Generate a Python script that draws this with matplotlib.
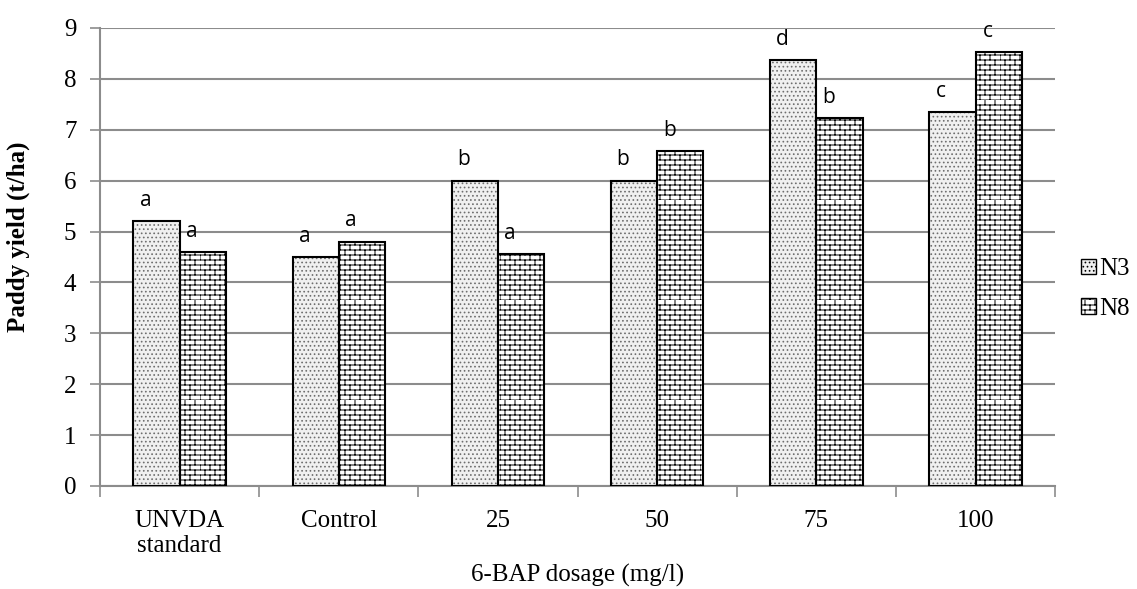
import warnings
import numpy as np
import matplotlib
matplotlib.use("Agg")
import matplotlib.pyplot as plt
from matplotlib import hatch as mhatch
from matplotlib.path import Path

warnings.filterwarnings("ignore")

categories = ["UNVDA\nstandard", "Control", "25", "50", "75", "100"]
n3_yield = [5.2, 4.5, 6.0, 6.0, 8.37, 7.35]
n8_yield = [4.6, 4.8, 4.55, 6.58, 7.23, 8.53]
n3_letters = ["a", "a", "b", "b", "d", "c"]
n8_letters = ["a", "a", "a", "b", "b", "c"]


class BrickHatch(mhatch.HatchPatternBase):
    """brick pattern for the 'k' hatch character"""
    def __init__(self, hatch, density):
        n = hatch.count('k')
        # about 20 rows per tile for 'kkk', kept even so the bricks tile
        self.rows = 2 * int(round(n * density * 1.1 / 2)) if n else 0
        self.cols = max(1, self.rows // 2)
        self.num_vertices = (self.rows * 2 + self.rows * self.cols * 2) if self.rows else 0

    def set_vertices_and_codes(self, vertices, codes):
        h = 1.0 / self.rows
        k = 0
        for i in range(self.rows):
            vertices[k] = (0, i * h)
            vertices[k + 1] = (1, i * h)
            codes[k] = Path.MOVETO
            codes[k + 1] = Path.LINETO
            k += 2
        for i in range(self.rows):
            shift = 0.5 * (i % 2)
            for j in range(self.cols):
                x = (j + shift) / self.cols
                vertices[k] = (x, i * h)
                vertices[k + 1] = (x, (i + 1) * h)
                codes[k] = Path.MOVETO
                codes[k + 1] = Path.LINETO
                k += 2


mhatch._hatch_types.append(BrickHatch)

plt.rcParams['hatch.linewidth'] = 0.7
serif = ['Liberation Serif', 'DejaVu Serif']

fig = plt.figure(figsize=(11.37, 5.89), dpi=100)
ax = fig.add_axes([0.088, 0.175, 0.84, 0.7775])

x = np.arange(len(categories))
w = 0.29
# N3: light stipple, outline drawn separately so the dots can be grey
ax.bar(x - w / 2, n3_yield, w, facecolor='#f0f0f0', edgecolor='#6e6e6e',
       linewidth=0, hatch='....', zorder=3)
b1 = ax.bar(x - w / 2, n3_yield, w, fill=False, edgecolor='black',
            linewidth=1.5, zorder=4)
b2 = ax.bar(x + w / 2, n8_yield, w, facecolor='white', edgecolor='black',
            linewidth=1.5, hatch='kkk', zorder=3)

for rect, lab in zip(b1, n3_letters):
    ax.annotate(lab, (rect.get_x() + rect.get_width() / 2, rect.get_height()),
                xytext=(-8, 11), textcoords='offset points', ha='center', va='baseline',
                fontsize=15, family='Open Sans')
for rect, lab in zip(b2, n8_letters):
    ax.annotate(lab, (rect.get_x() + rect.get_width() / 2, rect.get_height()),
                xytext=(-8, 11), textcoords='offset points', ha='center', va='baseline',
                fontsize=15, family='Open Sans')

ax.set_xlim(-0.5, len(categories) - 0.5)
ax.set_ylim(0, 9)
ax.set_yticks(range(0, 10))
ax.yaxis.grid(True, color='#8c8c8c', linewidth=1.5, zorder=0)
ax.set_axisbelow(True)

ax.set_xticks(np.arange(-0.5, len(categories), 1.0))
ax.set_xticklabels([])
ax.set_xticks(x, minor=True)
ax.set_xticklabels(categories, minor=True, fontsize=18, family=serif, linespacing=1.2)
ax.tick_params(axis='x', which='minor', length=0, pad=17)
ax.tick_params(axis='x', which='major', length=8, width=1.2, color='#8c8c8c', direction='out')
ax.tick_params(axis='y', length=7, width=1.2, color='#8c8c8c', labelsize=18, pad=10)
for t in ax.get_yticklabels():
    t.set_family(serif)

for s in ['top', 'right']:
    ax.spines[s].set_visible(False)
for s in ['left', 'bottom']:
    ax.spines[s].set_color('#8c8c8c')
    ax.spines[s].set_linewidth(1.5)

ax.set_ylabel('Paddy yield (t/ha)', fontsize=18, fontweight='bold', family=serif)
ax.yaxis.set_label_coords(-0.073, 0.544)
ax.set_xlabel('6-BAP dosage (mg/l)', fontsize=18, family=serif, labelpad=5)

ax.bar([0], [0], 0, facecolor='#f0f0f0', edgecolor='black', hatch='....', label='N3')
ax.bar([0], [0], 0, facecolor='white', edgecolor='black', hatch='kkk', label='N8')
ax.legend(loc='center left', bbox_to_anchor=(1.003, 0.43), frameon=False,
          prop={'family': serif, 'size': 18}, handlelength=0.6, handleheight=0.6,
          handletextpad=0.15, labelspacing=0.7)

fig.savefig('out.png', dpi=100)
